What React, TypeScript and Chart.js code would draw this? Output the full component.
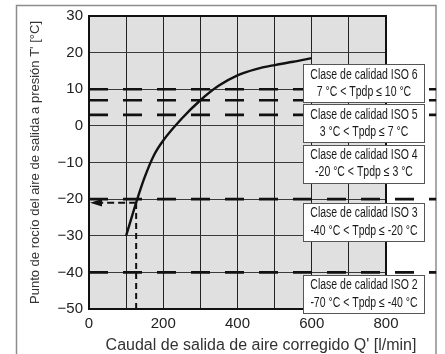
import React, { useEffect, useRef } from 'react';
import { Chart, registerables } from 'chart.js';

Chart.register(...registerables);

// Dew point curve: corrected outlet air flow (l/min) vs pressure dew point (°C)
const flowValues = [100, 130, 150, 175, 200, 250, 300, 350, 400, 450, 500, 550, 600];
const dewPointValues = [-30, -20, -14, -8, -4, 2, 7, 11, 13.8, 15.5, 16.6, 17.5, 18.5];

// ISO 8573-1 humidity class limits
const classLimits = [10, 7, 3, -20, -40];
const classTitles = [
  'Clase de calidad ISO 6',
  'Clase de calidad ISO 5',
  'Clase de calidad ISO 4',
  'Clase de calidad ISO 3',
  'Clase de calidad ISO 2',
];
const classRanges = [
  '7 °C < Tpdp ≤ 10 °C',
  '3 °C < Tpdp ≤ 7 °C',
  '-20 °C < Tpdp ≤ 3 °C',
  '-40 °C < Tpdp ≤ -20 °C',
  '-70 °C < Tpdp ≤ -40 °C',
];

// Worked example: read-off flow and resulting dew point
const exampleFlow = 127;
const exampleDewPoint = -21;

// Axis ticks
const xLabelValues = [0, 200, 400, 600, 800];
const yTickValues = [30, 20, 10, 0, -10, -20, -30, -40, -50];

const X_TITLE = "Caudal de salida de aire corregido Q' [l/min]";
const Y_TITLE = "Punto de rocío del aire de salida a presión T' [°C]";

// Placement of the class boxes (in axis units) and lines extent
const BOX_CENTERS = [11.6, 0.7, -10.3, -26.2, -45.9];
const BOX_X_FROM = 577;
const BOX_X_TO = 902;
const BOX_HEIGHT = 38;
const LIMIT_LINE_END = 935;

const FONT = '"Liberation Sans", Arial, Helvetica, sans-serif';

const decor = {
  id: 'decor',
  beforeDraw(chart: any) {
    const { ctx, chartArea: a, width, height } = chart;
    ctx.save();
    ctx.fillStyle = '#ffffff';
    ctx.fillRect(0, 0, width, height);
    ctx.strokeStyle = '#8c8c8c';
    ctx.lineWidth = 1.5;
    ctx.strokeRect(16.5, 5.5, 419.5, height + 20);
    ctx.fillStyle = '#e0e0e0';
    ctx.fillRect(a.left, a.top, a.right - a.left, a.bottom - a.top);
    ctx.restore();
  },
  beforeDatasetsDraw(chart: any) {
    const { ctx, chartArea: a } = chart;
    ctx.save();
    ctx.strokeStyle = '#111';
    ctx.lineWidth = 2;
    ctx.strokeRect(a.left, a.top, a.right - a.left, a.bottom - a.top);
    ctx.restore();
  },
  afterDatasetsDraw(chart: any) {
    const { ctx } = chart;
    const xs = chart.scales.x;
    const ys = chart.scales.y;
    ctx.save();

    // arrow head on the dew point axis
    const tipX = xs.getPixelForValue(0);
    const tipY = ys.getPixelForValue(exampleDewPoint);
    ctx.fillStyle = '#111';
    ctx.beginPath();
    ctx.moveTo(tipX + 1, tipY);
    ctx.lineTo(tipX + 13, tipY - 3.8);
    ctx.lineTo(tipX + 13, tipY + 3.8);
    ctx.closePath();
    ctx.fill();

    // class boxes
    const left = Math.round(xs.getPixelForValue(BOX_X_FROM)) + 0.5;
    const right = Math.round(xs.getPixelForValue(BOX_X_TO)) + 0.5;
    ctx.font = `14px ${FONT}`;
    ctx.textAlign = 'center';
    ctx.textBaseline = 'middle';
    classTitles.forEach((title, i) => {
      const cy = ys.getPixelForValue(BOX_CENTERS[i]);
      const top = Math.round(cy - BOX_HEIGHT / 2) + 0.5;
      ctx.fillStyle = '#ffffff';
      ctx.fillRect(left, top, right - left, BOX_HEIGHT);
      ctx.strokeStyle = '#555';
      ctx.lineWidth = 1;
      ctx.strokeRect(left, top, right - left, BOX_HEIGHT);
      ctx.fillStyle = '#1a1a1a';
      const cx = (left + right) / 2;
      [title, classRanges[i]].forEach((t, j) => {
        ctx.save();
        ctx.translate(cx, cy + (j === 0 ? -8.5 : 9));
        ctx.scale(0.75, 1);
        ctx.fillText(t, 0, 0);
        ctx.restore();
      });
    });

    // flow axis title
    ctx.fillStyle = '#333';
    ctx.font = `16px ${FONT}`;
    ctx.textAlign = 'center';
    ctx.textBaseline = 'alphabetic';
    ctx.fillText(X_TITLE, 261, 350);
    ctx.restore();
  },
};

export default function App() {
  const canvasRef = useRef<HTMLCanvasElement | null>(null);

  useEffect(() => {
    if (!canvasRef.current) return;
    Chart.defaults.font.family = FONT;

    const curve = flowValues.map((x, i) => ({ x, y: dewPointValues[i] }));
    const limitSets = classLimits.map((v) => ({
      data: [
        { x: 0, y: v },
        { x: LIMIT_LINE_END, y: v },
      ],
      borderColor: '#111',
      borderWidth: 2.6,
      borderDash: [19, 15],
      pointRadius: 0,
      showLine: true,
      clip: false,
      order: 3,
    }));

    const chart = new Chart(canvasRef.current, {
      type: 'scatter',
      data: {
        datasets: [
          {
            data: curve,
            borderColor: '#111',
            borderWidth: 2.4,
            pointRadius: 0,
            showLine: true,
            cubicInterpolationMode: 'monotone',
            order: 0,
          },
          {
            data: [
              { x: exampleFlow, y: -50 },
              { x: exampleFlow, y: exampleDewPoint },
            ],
            borderColor: '#111',
            borderWidth: 2,
            borderDash: [6, 4],
            pointRadius: 0,
            showLine: true,
            order: 1,
          },
          {
            data: [
              { x: exampleFlow, y: exampleDewPoint },
              { x: 20, y: exampleDewPoint },
            ],
            borderColor: '#111',
            borderWidth: 2,
            borderDash: [7, 4],
            pointRadius: 0,
            showLine: true,
            order: 1,
          },
          ...limitSets,
        ] as any,
      },
      options: {
        animation: false,
        responsive: true,
        maintainAspectRatio: false,
        events: [],
        layout: { padding: { left: 0, top: 16, right: 59, bottom: 0 } },
        plugins: {
          legend: { display: false },
          tooltip: { enabled: false },
        },
        scales: {
          x: {
            type: 'linear',
            min: 0,
            max: 800,
            afterFit: (s: any) => {
              s.height = 45;
            },
            border: { display: false },
            grid: { color: '#222', lineWidth: 1, drawTicks: false },
            ticks: {
              stepSize: 100,
              autoSkip: false,
              maxRotation: 0,
              padding: 6,
              color: '#222',
              font: { size: 15 },
              callback: (v: any) => (xLabelValues.includes(Number(v)) ? String(v) : ''),
            },
          },
          y: {
            type: 'linear',
            min: -50,
            max: 30,
            afterFit: (s: any) => {
              s.width = 89;
            },
            border: { display: false },
            grid: { color: '#3a3a3a', lineWidth: 1, drawTicks: false },
            ticks: {
              stepSize: 10,
              padding: 6,
              color: '#222',
              font: { size: 15 },
              callback: (v: any) => {
                const n = Number(v);
                if (!yTickValues.includes(n)) return '';
                return n < 0 ? '\u2212' + Math.abs(n) : String(n);
              },
            },
            title: {
              display: true,
              text: Y_TITLE,
              color: '#333',
              font: { size: 13 },
              padding: { top: 28, bottom: 0 },
            },
          },
        },
      } as any,
      plugins: [decor],
    });

    return () => chart.destroy();
  }, []);

  return (
    <div style={{ position: 'fixed', left: 0, top: 0, width: 445, height: 354 }}>
      <canvas ref={canvasRef} />
    </div>
  );
}
